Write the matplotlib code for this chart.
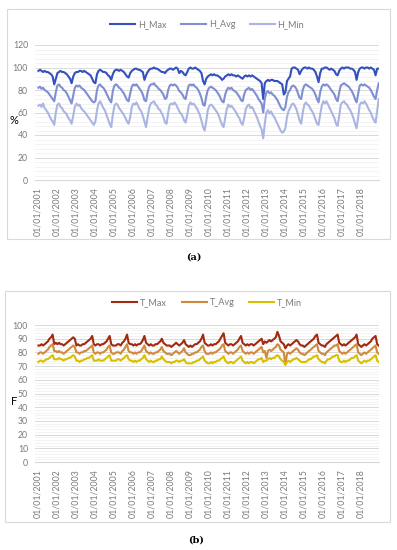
import matplotlib
matplotlib.use("Agg")
import matplotlib.pyplot as plt
from matplotlib.patches import Rectangle
from matplotlib.ticker import MultipleLocator
import pandas as pd

plt.rcParams['font.family'] = ['Lato', 'DejaVu Sans']

n_months = 216
year_ticks = list(range(2001, 2019))

# Humidity (%) monthly, 2001..2018 (12 per year)
h_max = [
    97,98,97,96,97,96,96,95,94,92,85,90,
    95,96,97,96,96,95,94,92,90,86,92,95,
    96,96,97,97,96,97,96,95,94,93,90,87,
    86,94,97,98,97,96,96,95,93,92,89,94,
    97,98,98,97,98,97,96,94,92,91,95,97,
    98,99,99,98,98,97,96,89,93,96,98,99,
    99,100,99,99,98,97,96,96,95,97,98,99,
    99,98,99,100,99,95,97,96,94,93,96,99,
    100,99,99,100,99,98,97,95,88,85,90,92,
    93,94,93,94,93,93,92,91,89,90,92,93,
    94,93,94,93,93,92,93,92,91,90,92,93,
    92,93,92,93,92,91,90,89,88,86,72,86,
    88,89,88,89,89,88,88,88,87,86,85,76,
    78,88,90,92,99,100,100,99,98,94,97,99,
    100,100,99,100,99,99,98,96,92,87,95,99,
    99,100,100,99,98,99,98,97,94,93,97,99,
    100,99,100,100,100,99,99,98,96,89,96,99,
    100,100,99,100,100,99,100,99,98,93,99,99,
]
h_avg = [
    82,83,81,82,80,79,78,76,74,72,70,78,
    84,85,83,82,80,79,77,74,71,68,75,82,
    84,83,84,82,81,80,78,76,74,72,70,69,
    70,80,84,85,83,82,80,77,74,71,69,79,
    84,85,84,82,81,79,77,74,71,70,77,83,
    85,84,85,83,81,79,76,71,70,78,83,85,
    85,86,84,83,81,80,78,76,72,73,80,84,
    85,84,85,84,82,79,78,76,73,72,79,84,
    85,84,85,83,82,80,77,73,67,66,74,80,
    82,83,82,81,80,78,76,73,70,69,76,80,
    82,81,82,80,79,78,76,74,71,70,76,80,
    81,82,80,81,79,77,75,72,70,68,60,72,
    78,79,77,78,76,75,73,71,68,65,63,62,
    65,74,78,80,83,84,83,81,77,73,72,80,
    84,85,84,83,82,81,79,76,72,69,78,83,
    85,84,85,84,82,80,78,76,72,70,78,84,
    85,86,85,84,83,81,79,76,72,69,77,84,
    85,84,85,84,83,82,80,77,74,72,80,86,
]
h_min = [
    66,67,65,68,64,62,60,57,54,52,49,60,
    67,68,65,64,61,60,58,55,53,50,57,65,
    68,66,67,64,62,61,59,57,55,53,51,49,
    52,62,68,70,67,64,62,58,54,50,47,58,
    66,68,67,64,62,60,58,55,52,50,56,65,
    68,67,69,66,63,61,57,52,47,56,64,68,
    69,70,67,66,63,62,59,56,51,50,60,67,
    68,67,69,67,64,61,59,57,53,51,58,66,
    69,67,68,66,64,61,58,53,47,44,52,62,
    66,67,66,64,62,60,57,53,49,47,55,63,
    67,65,66,64,62,60,57,55,51,49,55,63,
    66,67,64,65,62,59,56,52,48,45,37,50,
    60,62,59,61,58,56,53,50,47,44,42,43,
    46,56,61,64,67,68,66,63,58,53,50,60,
    67,69,67,66,63,61,58,54,50,49,58,66,
    70,68,70,67,64,61,58,55,50,48,57,67,
    69,70,68,67,64,62,59,55,50,46,56,67,
    69,68,70,68,65,62,60,56,53,51,62,72,
]

# Temperature (F) monthly, 2001..2018
t_max = [
    85,85,86,85,86,87,88,90,91,93,86,87,
    86,87,86,86,85,86,87,88,89,90,91,90,
    85,86,85,85,86,86,87,88,89,90,92,86,
    85,86,86,85,86,86,87,88,90,92,86,85,
    85,85,86,86,85,87,88,90,93,87,86,86,
    85,86,85,86,86,87,89,92,87,86,85,86,
    85,85,86,86,87,88,90,87,86,85,85,85,
    84,85,86,87,86,85,86,87,89,86,85,84,
    85,84,85,86,86,87,88,90,93,87,86,85,
    85,86,85,86,86,87,88,90,92,94,87,86,
    85,86,86,85,86,87,88,90,92,87,86,85,
    86,85,86,86,85,86,87,88,89,90,86,88,
    87,88,89,88,89,90,91,95,92,88,87,86,
    83,85,86,85,86,87,88,89,88,86,85,85,
    84,85,86,87,88,89,90,92,93,87,86,85,
    85,84,86,87,88,89,90,91,92,93,87,86,
    85,86,85,86,87,88,89,90,91,93,86,85,
    84,85,86,85,86,87,88,90,91,92,86,85,
]
t_avg = [
    79,80,80,79,80,81,82,84,85,86,81,81,
    80,81,80,80,79,80,81,82,83,84,85,84,
    80,80,79,80,80,81,81,82,83,84,85,80,
    79,80,80,79,80,80,81,82,84,85,80,79,
    79,80,80,80,79,81,82,84,86,81,80,80,
    79,80,79,80,80,81,83,85,81,80,79,80,
    79,79,80,80,81,82,84,81,80,79,79,79,
    78,79,80,81,80,79,80,81,83,80,79,78,
    78,79,79,80,80,81,82,84,85,81,79,79,
    79,80,79,80,80,81,82,83,85,86,81,80,
    79,80,80,79,80,81,82,84,85,81,80,79,
    80,79,80,80,79,80,81,82,83,84,80,81,
    76,81,82,81,82,83,84,86,85,82,81,80,
    71,79,80,79,80,81,82,83,82,80,79,79,
    78,79,80,81,82,83,84,85,86,81,80,79,
    79,78,80,81,82,83,84,85,85,86,81,80,
    79,80,79,80,81,82,83,84,85,86,80,79,
    78,79,80,79,80,81,82,83,84,85,80,79,
]
t_min = [
    73,74,74,73,74,75,75,76,77,78,75,75,
    75,76,75,75,74,75,75,76,76,77,78,77,
    74,74,73,74,74,75,75,76,76,77,78,74,
    74,74,75,74,74,74,75,76,77,78,74,74,
    74,74,75,75,74,75,76,77,78,75,74,74,
    73,74,73,74,74,75,76,78,75,74,73,74,
    73,73,74,74,75,75,77,75,74,73,73,73,
    72,73,73,74,74,73,74,74,75,73,72,72,
    72,72,73,73,74,74,75,76,77,74,73,72,
    72,73,72,73,73,74,74,75,76,77,74,73,
    72,73,73,72,73,74,75,76,77,74,73,72,
    73,72,73,73,72,73,74,75,75,76,73,74,
    74,75,76,75,76,76,77,78,77,75,74,73,
    71,73,74,73,74,75,75,76,75,74,73,73,
    73,73,74,75,75,76,77,77,78,75,74,73,
    73,72,74,75,75,76,77,77,78,78,74,73,
    73,74,73,74,74,75,76,76,77,78,74,73,
    72,73,74,73,74,74,75,76,77,78,74,73,
]

dates = pd.date_range("2001-01-01", periods=n_months, freq="MS") + pd.Timedelta(days=14)

W, H = 397, 550
fig = plt.figure(figsize=(W/100, H/100), dpi=100)

def fx(px): return px / W
def fy(py): return 1 - py / H

# outer boxes
for (x0, y0, x1, y1) in [(7, 9, 390, 239), (5, 291, 390, 522)]:
    fig.patches.append(Rectangle((fx(x0), fy(y1)), fx(x1) - fx(x0), fy(y0) - fy(y1),
                                 transform=fig.transFigure, fill=False,
                                 edgecolor="#d9d9d9", linewidth=0.8))

grey_txt = "#7a7a7a"

def style_axes(ax, ymax, major, minor):
    ax.set_ylim(0, ymax)
    ax.yaxis.set_major_locator(MultipleLocator(major))
    ax.yaxis.set_minor_locator(MultipleLocator(minor))
    ax.grid(which="major", axis="y", color="#d9d9d9", linewidth=0.7)
    ax.grid(which="minor", axis="y", color="#efefef", linewidth=0.5)
    ax.set_axisbelow(True)
    for s in ["top", "right", "left"]:
        ax.spines[s].set_visible(False)
    ax.spines["bottom"].set_color("#d9d9d9")
    ax.spines["bottom"].set_linewidth(0.8)
    ax.tick_params(axis="both", which="both", length=0, labelsize=6.3, labelcolor=grey_txt)
    ax.set_xticks([pd.Timestamp(f"{y}-01-01") for y in year_ticks])
    ax.set_xticklabels([f"01/01/{y}" for y in year_ticks], rotation=90)
    ax.set_xlim(pd.Timestamp("2000-11-10"), pd.Timestamp("2018-12-20"))
    ax.tick_params(axis="x", pad=5)
    ax.tick_params(axis="y", pad=5)

# Panel (a)
ax1 = fig.add_axes([fx(35), fy(180), fx(379) - fx(35), fy(45) - fy(180)])
ax1.plot(dates, h_max, color="#3450bf", lw=1.5, label="H_Max")
ax1.plot(dates, h_avg, color="#7f8fd2", lw=1.5, label="H_Avg")
ax1.plot(dates, h_min, color="#aab5e2", lw=1.5, label="H_Min")
style_axes(ax1, 120, 20, 4)
ax1.set_ylabel("%", rotation=0, fontsize=8, labelpad=2)
ax1.yaxis.set_label_coords(-0.06, 0.40)
ax1.legend(loc="lower center", bbox_to_anchor=(0.5, 1.06), ncol=3, frameon=False,
           fontsize=6.5, handlelength=2.8, columnspacing=1.6, handletextpad=0.3,
           labelcolor=grey_txt)

# Panel (b)
ax2 = fig.add_axes([fx(35), fy(462), fx(379) - fx(35), fy(325) - fy(462)])
ax2.plot(dates, t_max, color="#a0290f", lw=1.5, label="T_Max")
ax2.plot(dates, t_avg, color="#cf8a3c", lw=1.5, label="T_Avg")
ax2.plot(dates, t_min, color="#d8c000", lw=1.5, label="T_Min")
style_axes(ax2, 100, 10, 2)
ax2.set_ylabel("F", rotation=0, fontsize=8, labelpad=2)
ax2.yaxis.set_label_coords(-0.06, 0.40)
ax2.legend(loc="lower center", bbox_to_anchor=(0.5, 1.07), ncol=3, frameon=False,
           fontsize=6.5, handlelength=2.8, columnspacing=1.6, handletextpad=0.3,
           labelcolor=grey_txt)

fig.text(fx(194), fy(257), "(a)", ha="center", va="center", fontsize=7,
         fontweight="bold", family="DejaVu Serif")
fig.text(fx(196), fy(540), "(b)", ha="center", va="center", fontsize=7,
         fontweight="bold", family="DejaVu Serif")

fig.savefig("out.png", dpi=100)
